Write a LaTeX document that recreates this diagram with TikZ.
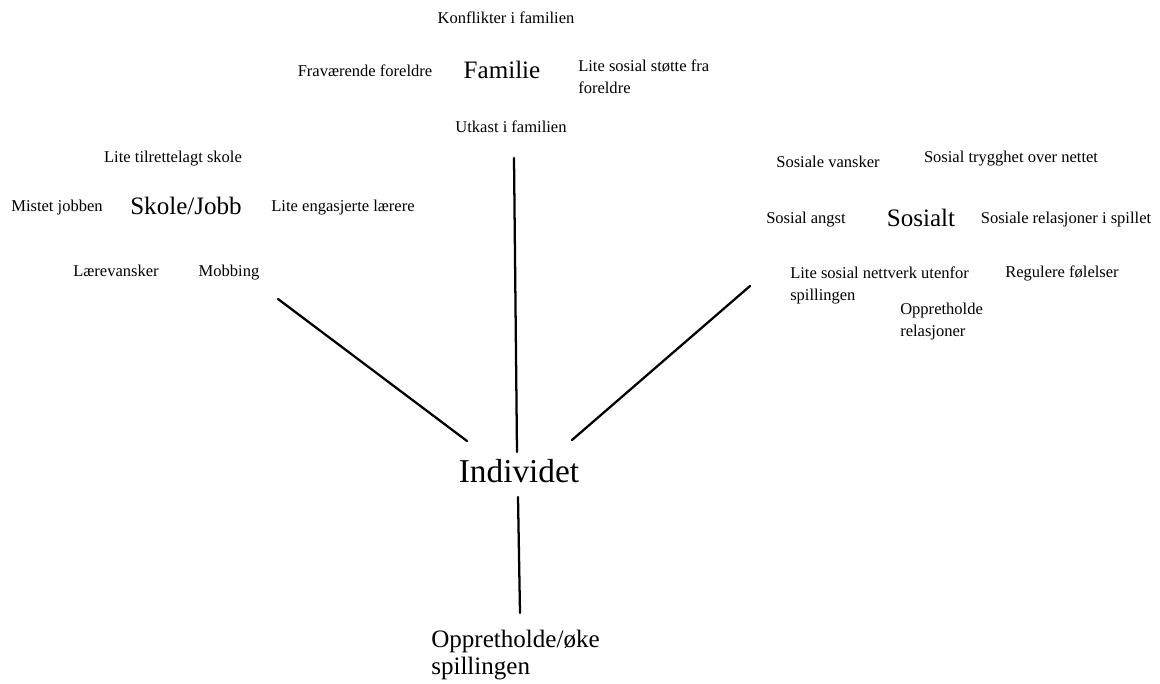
\documentclass[tikz,border=0pt]{standalone}
\usepackage{fontspec}
\setmainfont{Liberation Serif}
\begin{document}
\begin{tikzpicture}[x=0.75pt,y=-0.75pt, line join=round, line cap=round,
    small/.style={font=\fontsize{12.4}{16.5}\selectfont, inner sep=0pt},
    big/.style={font=\fontsize{18.8}{20}\selectfont, inner sep=0pt},
    spoke/.style={line width=1.7pt}]
    \useasboundingbox (0,0) rectangle (1160,683);

    % Familie
    \node[small] (konflikt) at (506,18) {Konflikter i familien};
    \node[small] (fravar) at (365,71) {Fraværende foreldre};
    \node[big] (familie) at (502,70) {Familie};
    \node[small, align=left, anchor=north west] (stotte) at (578,60) {Lite sosial støtte fra\\foreldre};
    \node[small] (utkast) at (511,127) {Utkast i familien};

    % Skole/Jobb
    \node[small] (tilrett) at (173,159) {Lite tilrettelagt skole};
    \node[small] (mistet) at (57,208) {Mistet jobben};
    \node[big] (skole) at (186,206) {Skole/Jobb};
    \node[small] (engasj) at (343,208) {Lite engasjerte lærere};
    \node[small] (larev) at (116,271) {Lærevansker};
    \node[small] (mobb) at (229,273) {Mobbing};

    % Sosialt
    \node[small] (vansker) at (828,162) {Sosiale vansker};
    \node[small] (trygg) at (1011,159) {Sosial trygghet over nettet};
    \node[small] (angst) at (806,220) {Sosial angst};
    \node[big] (sosialt) at (921,218) {Sosialt};
    \node[small] (relspill) at (1066,220) {Sosiale relasjoner i spillet};
    \node[small, align=left, anchor=north west] (nettverk) at (790,267) {Lite sosial nettverk utenfor\\spillingen};
    \node[small] (regul) at (1062,273) {Regulere følelser};
    \node[small, align=left, anchor=north west] (oppret) at (900,303) {Oppretholde\\relasjoner};

    % Individet
    \node[font=\fontsize{25}{28}\selectfont, inner sep=0pt] (individ) at (519,471) {Individet};
    \node[big, align=left, anchor=north west] (oke) at (431,630) {Oppretholde/øke\\spillingen};

    \coordinate (famEnd) at (514,158);
    \coordinate (skoleEnd) at (278,299);
    \coordinate (sosEnd) at (750,286);
    \coordinate (indN) at (517,452);
    \coordinate (indW) at (467,441);
    \coordinate (indE) at (572,440);
    \coordinate (indS) at (518,497);
    \coordinate (okeEnd) at (520,613);

    \draw[spoke] (famEnd) -- (indN);
    \draw[spoke] (skoleEnd) -- (indW);
    \draw[spoke] (sosEnd) -- (indE);
    \draw[spoke] (indS) -- (okeEnd);
\end{tikzpicture}
\end{document}
